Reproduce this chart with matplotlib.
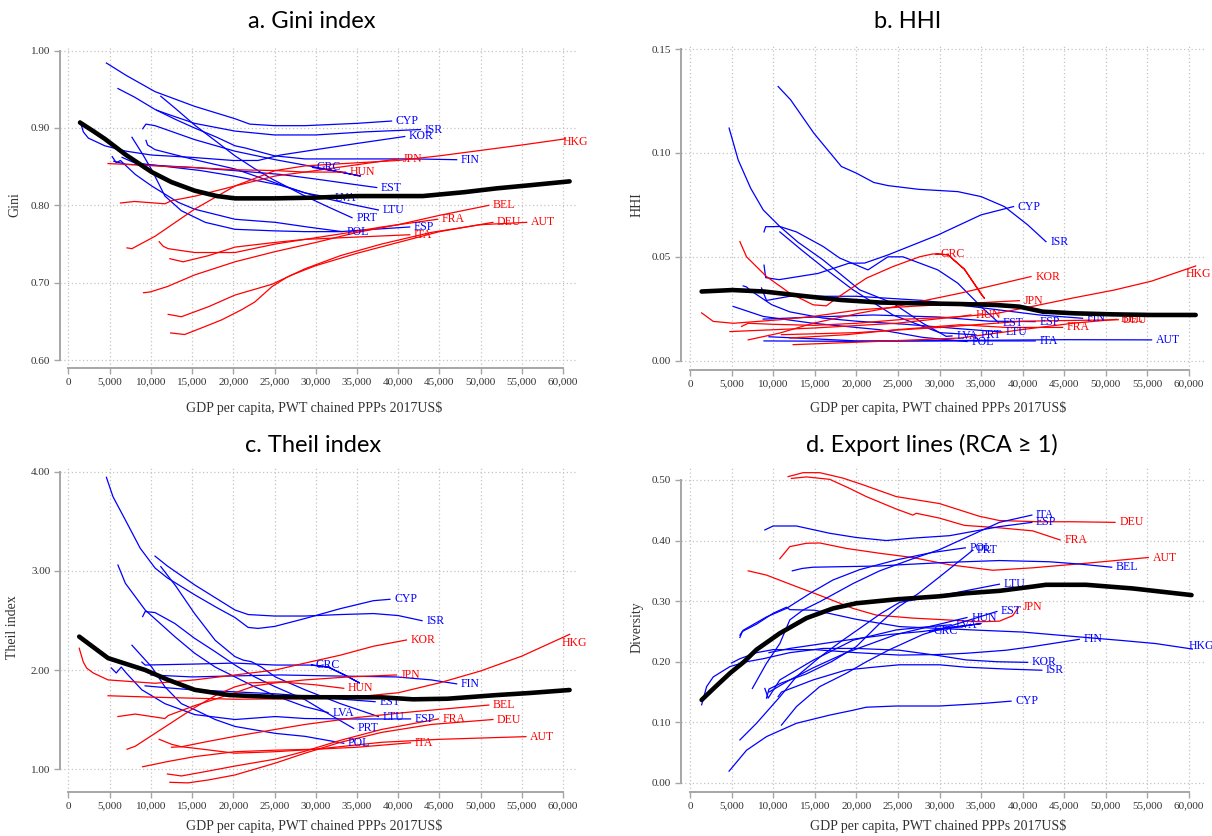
import matplotlib
matplotlib.use("Agg")
import matplotlib.pyplot as plt
from matplotlib.ticker import FuncFormatter

# x values: GDP per capita in thousands of 2017 US$

# ---------- a. Gini index ----------
gini = {
    "CYP": [(4.6, .984), (7, .968), (10.5, .947), (15.3, .928), (20.2, .912), (22, .905), (25, .903), (28.7, .903), (35, .906), (39.2, .909)],
    "ISR": [(10.7, .923), (12, .918), (15.3, .906), (20.2, .896), (25, .891), (30, .891), (36, .895), (42.7, .898)],
    "KOR": [(1.4, .909), (1.8, .895), (2.4, .887), (4.4, .877), (7, .87), (10.1, .865), (15, .862), (20, .858), (23, .858), (25.7, .865), (30, .872), (35, .88), (40.8, .889)],
    "FIN": [(6, .951), (8, .94), (10.5, .924), (13, .911), (15.3, .90), (18, .888), (20.2, .877), (21.5, .874), (25, .864), (28.7, .86), (35, .86), (42, .86), (47.1, .859)],
    "GRC": [(9.0, .899), (9.4, .905), (10.5, .903), (15.3, .885), (20.2, .87), (25.1, .859), (29.7, .85), (33, .843), (35.4, .838), (33, .843), (29.6, .849)],
    "EST": [(5.5, .857), (7, .853), (10, .852), (15, .849), (20, .845), (25.7, .84), (30, .834), (34, .828), (37.4, .823)],
    "LVA": [(9.4, .884), (9.6, .878), (10.5, .872), (15.3, .859), (20.2, .847), (25.1, .829), (28.7, .816), (31.8, .81)],
    "LTU": [(6.5, .862), (8, .855), (12, .85), (16, .845), (20, .838), (25.7, .826), (30, .812), (34, .802), (37.6, .794)],
    "PRT": [(11.2, .941), (13, .925), (15.4, .903), (18, .882), (20.2, .864), (22.5, .848), (24.7, .834), (28.7, .812), (31.5, .798), (34.4, .784)],
    "POL": [(5.3, .863), (5.8, .855), (6.3, .858), (8.1, .84), (10.1, .825), (13.3, .804), (15.3, .795), (20.2, .782), (25.1, .778), (29, .772), (33.2, .766)],
    "ESP": [(7.7, .888), (9, .866), (10.1, .846), (11.7, .812), (13.7, .793), (16.6, .778), (20.2, .769), (25, .767), (28.7, .766), (33, .766), (37, .769), (41.4, .772)],
    "HKG": [(7.1, .745), (7.7, .744), (10.5, .76), (15.3, .795), (20.2, .825), (25.1, .845), (28.7, .851), (35, .855), (40, .858), (45, .864), (50, .871), (55, .878), (60.3, .886)],
    "JPN": [(6.3, .803), (8, .805), (11.7, .802), (12.5, .806), (15.4, .812), (20.2, .825), (25.1, .838), (28.7, .843), (32, .848), (36, .854), (40, .86)],
    "HUN": [(4.8, .854), (7, .853), (10.5, .851), (15, .849), (20.2, .846), (25, .845), (28.7, .843), (33.6, .843)],
    "BEL": [(9.1, .687), (9.9, .688), (12, .695), (15.3, .71), (20.2, .727), (25, .74), (30, .752), (35, .765), (40, .775), (45, .787), (51, .8)],
    "FRA": [(11, .753), (11.5, .747), (12.1, .744), (15.3, .739), (20.2, .739), (25.1, .75), (28.7, .756), (33, .763), (38, .772), (44.8, .782)],
    "ITA": [(12.3, .731), (13.9, .727), (17, .735), (20.2, .746), (25, .752), (28.7, .756), (35, .759), (41.4, .762)],
    "DEU": [(12.1, .659), (13.7, .656), (17, .669), (20.2, .684), (24.7, .698), (27.1, .71), (30, .722), (35, .738), (40, .752), (45, .766), (51.5, .778)],
    "AUT": [(12.4, .635), (14.1, .633), (16.5, .643), (18.6, .652), (21, .665), (22.6, .675), (24.7, .695), (26.5, .707), (28.7, .718), (33, .735), (38, .75), (44, .765), (50, .775), (55.6, .778)],
}
gini_red = ["HKG", "JPN", "HUN", "BEL", "FRA", "ITA", "DEU", "AUT"]
gini_avg = [(1.4, .907), (3, .896), (4.4, .886), (7, .865), (10.1, .843), (12.5, .83), (15.3, .819), (18, .812), (20.2, .809),
            (25, .809), (30, .81), (35, .812), (40, .812), (43, .812), (48, .817), (52, .822), (56, .826), (60.8, .831)]

# ---------- b. HHI ----------
hhi = {
    "ISR": [(10.6, .132), (12.1, .1256), (14.9, .1095), (18.2, .0935), (20, .0903), (22.1, .0858), (23.8, .0843), (27.5, .0825), (32.2, .0814), (35, .079), (37.8, .0742), (40.6, .0654), (42.8, .0573)],
    "CYP": [(8.9, .046), (9.1, .040), (10.7, .039), (15.4, .042), (19.1, .0469), (21, .047), (23.8, .0509), (29.8, .0605), (35, .0702), (38.9, .0742)],
    "LVA": [(4.7, .112), (5.8, .0966), (7.3, .083), (8.8, .0726), (10.8, .0646), (13, .057), (16, .0485), (20.4, .0341), (24.4, .0277), (28, .018), (30.8, .0117), (31.5, .0119)],
    "EST": [(8.9, .062), (9.1, .0645), (10.8, .0646), (12.8, .062), (16, .055), (18, .0494), (21.4, .0437), (23.8, .05), (25.6, .05), (29.8, .0437), (32.2, .0373), (35, .026), (37.1, .0183)],
    "PRT": [(10.8, .062), (13.5, .053), (16, .045), (19.6, .0341), (24.4, .022), (30, .0135), (34.4, .0124)],
    "LTU": [(6.4, .036), (6.8, .0355), (7.2, .034), (9.8, .027), (12, .0235), (16, .0205), (20, .019), (26, .0175), (32, .0155), (37.5, .0138)],
    "POL": [(5.2, .0261), (8.8, .0213), (14.8, .018), (22.8, .0149), (28, .0112), (33.3, .0092)],
    "FIN": [(8.6, .035), (9.2, .029), (12, .031), (20, .031), (28, .029), (36, .025), (42, .022), (47.2, .0204)],
    "ESP": [(8.8, .020), (15, .021), (22, .022), (30, .021), (36, .019), (41.5, .0188)],
    "ITA": [(9.5, .0115), (15, .0105), (20, .0095), (30, .0095), (41.5, .0095)],
    "AUT": [(8.9, .0095), (20, .0093), (35, .0098), (45, .0101), (55.5, .01)],
    "GRC": [(6, .0573), (6.8, .05), (9.2, .0405), (12, .0325), (14.8, .0269), (16.4, .0264), (17.6, .03), (21.2, .0397), (24.4, .0453), (27.6, .05), (29.2, .0514), (31, .051), (33, .044), (35, .032), (35.4, .030), (33, .044), (31, .051), (29.6, .0514)],
    "JPN": [(1.4, .023), (2.8, .0189), (5.2, .018), (10.8, .0197), (14.8, .0213), (20.4, .0245), (26.8, .0262), (33, .0275), (39.6, .0289)],
    "HKG": [(6.2, .0165), (7, .018), (10, .0175), (15, .017), (20, .018), (26, .02), (32, .021), (36.8, .0227), (41, .026), (46.2, .0303), (51, .034), (55.5, .0383), (60.8, .0456)],
    "HUN": [(4.8, .014), (14.8, .0157), (24.8, .018), (32.5, .0213), (33.8, .022)],
    "KOR": [(7, .010), (10.8, .0133), (14.8, .018), (20.4, .0229), (24.8, .0261), (32.5, .0325), (41, .0405)],
    "FRA": [(12, .0109), (18.8, .0125), (24.8, .0149), (32.5, .0173), (38, .016), (44.8, .016)],
    "BEL": [(12.4, .0077), (22.8, .0093), (32.5, .0109), (40, .015), (46, .018), (51.3, .0199)],
    "DEU": [(11, .0125), (20, .0135), (30, .016), (40, .019), (51.5, .0197)],
}
hhi_red = ["GRC", "JPN", "HKG", "HUN", "KOR", "FRA", "BEL", "DEU"]
hhi_avg = [(1.4, .0333), (5.1, .034), (8.9, .0333), (13.5, .0312), (18.2, .0292), (22.8, .028), (27.5, .0276), (32.2, .0273),
           (36.8, .0268), (39.6, .026), (42.4, .0236), (46.2, .0228), (50.8, .0223), (55.5, .022), (60.8, .022)]

# ---------- c. Theil index ----------
theil = {
    "CYP": [(4.6, 3.946), (5.4, 3.75), (6.9, 3.515), (8.7, 3.23), (10.5, 3.03), (12, 2.93), (15.3, 2.76), (18, 2.63), (20.2, 2.53), (21.8, 2.43), (23, 2.42), (25, 2.44), (28.7, 2.52), (33, 2.62), (37, 2.70), (39, 2.714)],
    "ISR": [(10.5, 3.15), (12, 3.05), (15.3, 2.86), (18, 2.72), (20.2, 2.606), (21.8, 2.56), (25, 2.545), (28.7, 2.545), (33, 2.56), (37, 2.57), (40, 2.55), (42.9, 2.498)],
    "LTU": [(11.2, 3.044), (13, 2.85), (15.3, 2.57), (17.8, 2.30), (20.2, 2.135), (21.2, 2.10), (22.2, 2.084), (23.4, 2.03), (25.1, 1.93), (28.7, 1.80), (33, 1.66), (37.6, 1.53)],
    "LVA": [(6.0, 3.06), (6.9, 2.876), (9.3, 2.606), (12.9, 2.337), (15.3, 2.17), (17.8, 2.03), (20.2, 1.93), (22.6, 1.83), (25.1, 1.74), (28.7, 1.63), (31.5, 1.57)],
    "PRT": [(9.0, 2.54), (9.3, 2.59), (10.5, 2.58), (12.9, 2.47), (15.3, 2.32), (17.8, 2.185), (20.2, 2.05), (22.6, 1.93), (25.1, 1.83), (28.7, 1.70), (31.5, 1.56), (34.6, 1.41)],
    "POL": [(7.7, 2.25), (10.1, 2.03), (11.7, 1.83), (13.7, 1.66), (15.3, 1.60), (17.8, 1.50), (20.2, 1.43), (25.1, 1.36), (28.7, 1.33), (33.4, 1.26)],
    "ESP": [(5.2, 2.02), (5.8, 1.97), (6.4, 2.03), (7, 1.97), (8.9, 1.80), (11.7, 1.66), (15.3, 1.55), (20.2, 1.50), (25.1, 1.53), (28.7, 1.51), (35, 1.505), (41.5, 1.506)],
    "GRC": [(8.9, 2.08), (9.3, 2.05), (15.3, 2.06), (20.2, 2.07), (25.1, 2.05), (29.5, 2.05), (31.5, 2.03), (33.5, 1.95), (35.3, 1.87), (33.5, 1.95), (31.5, 2.03), (29.5, 2.05)],
    "EST": [(9.3, 1.84), (12, 1.82), (15, 1.80), (20, 1.78), (25, 1.76), (30, 1.73), (34, 1.70), (37.2, 1.68)],
    "FIN": [(10, 1.95), (15, 1.93), (20, 1.94), (25.7, 1.95), (32, 1.94), (39.8, 1.93), (44, 1.90), (47.1, 1.86)],
    "KOR": [(1.3, 2.22), (1.8, 2.08), (2.2, 2.02), (3, 1.97), (4.8, 1.90), (10.5, 1.866), (15.3, 1.90), (20.2, 1.95), (25.1, 2.0), (28.7, 2.07), (33, 2.15), (37, 2.24), (41, 2.303)],
    "HKG": [(4.8, 1.74), (10.5, 1.725), (20.2, 1.705), (28.7, 1.71), (35, 1.73), (40, 1.77), (45, 1.87), (50, 1.99), (55, 2.14), (60.8, 2.36)],
    "JPN": [(6.0, 1.53), (8.1, 1.555), (11.7, 1.51), (12.1, 1.54), (15.3, 1.64), (20.2, 1.77), (22.6, 1.84), (25.1, 1.87), (28.7, 1.90), (34, 1.93), (39.8, 1.95)],
    "HUN": [(7.1, 1.20), (8.1, 1.23), (10.5, 1.36), (15.3, 1.62), (18, 1.75), (20.2, 1.83), (22, 1.87), (25.7, 1.88), (30, 1.85), (33.4, 1.815)],
    "AUT": [(11, 1.30), (12.5, 1.25), (13.7, 1.225), (15.3, 1.21), (20.2, 1.16), (25.1, 1.175), (30, 1.2), (38, 1.27), (45, 1.30), (55.5, 1.327)],
    "BEL": [(12.5, 1.22), (13.7, 1.225), (17, 1.28), (20.2, 1.33), (25.1, 1.40), (28.7, 1.45), (35, 1.52), (42, 1.58), (51, 1.646)],
    "ITA": [(9.0, 1.023), (12, 1.075), (15.3, 1.125), (20.2, 1.175), (25, 1.19), (30, 1.2), (35, 1.22), (41.5, 1.265)],
    "FRA": [(12.0, 0.95), (13.7, 0.93), (17, 0.98), (20.2, 1.03), (25.1, 1.10), (28.7, 1.18), (33, 1.29), (38, 1.40), (44.9, 1.506)],
    "DEU": [(12.3, 0.866), (14.5, 0.86), (17, 0.89), (20.2, 0.94), (25.1, 1.06), (28.7, 1.16), (33, 1.27), (38, 1.37), (44, 1.45), (51.5, 1.50)],
}
theil_red = ["KOR", "HKG", "JPN", "HUN", "AUT", "BEL", "ITA", "FRA", "DEU"]
theil_avg = [(1.3, 2.337), (4.8, 2.12), (9.3, 2.0), (12.1, 1.9), (15.3, 1.8), (19.5, 1.747), (25, 1.728), (30, 1.725),
             (38, 1.724), (41.8, 1.704), (46, 1.71), (52, 1.747), (56, 1.768), (60.8, 1.798)]

# ---------- d. Export lines (RCA >= 1) ----------
lines_rca = {
    "DEU": [(11.8, .5055), (12.5, .508), (13.6, .512), (15.6, .512), (18.4, .503), (20.8, .492), (24.8, .4725), (30, .461), (34.8, .44), (37.2, .433), (42, .431), (46, .431), (51.1, .43)],
    "FRA": [(12.2, .5025), (14, .505), (16.8, .501), (19.2, .486), (21.2, .4725), (24.8, .452), (26.8, .442), (27.2, .445), (30, .437), (33, .425), (37.2, .421), (41.2, .416), (44.5, .401)],
    "AUT": [(10.8, .37), (12, .39), (14, .3955), (15.6, .396), (18.8, .387), (22.8, .379), (26.8, .372), (31.2, .36), (36.4, .351), (41.2, .355), (48, .363), (55.1, .372)],
    "JPN": [(7, .35), (9.2, .343), (12.8, .324), (16, .3075), (19.6, .288), (22.4, .277), (26.8, .272), (31, .269), (34.8, .266), (37.2, .267), (38.8, .276), (39.5, .29)],
    "ESP": [(9, .4175), (10, .424), (12.8, .424), (16.8, .412), (20, .405), (23.6, .4), (26.8, .404), (31.2, .408), (34, .415), (37.2, .423), (41.1, .43)],
    "BEL": [(12.3, .35), (13.5, .354), (14.8, .356), (22.8, .358), (25.2, .36), (31, .364), (37.2, .367), (43.2, .365), (47, .361), (50.7, .356)],
    "POL": [(6, .244), (6.4, .252), (9.2, .274), (11.6, .288), (14.8, .316), (17.2, .335), (20.4, .352), (24.8, .368), (29, .38), (33.1, .388)],
    "ITA": [(7.5, .156), (9.2, .1975), (10.8, .23), (12, .269), (13.6, .2855), (15.6, .299), (19.6, .329), (22.8, .35), (26.8, .37), (30, .385), (34, .41), (37.2, .43), (41.1, .442)],
    "PRT": [(9.2, .14), (9.5, .155), (11, .165), (14, .18), (17, .2), (20, .225), (22.8, .263), (25, .29), (27.5, .313), (30, .34), (34, .384)],
    "LTU": [(6, .071), (8, .0985), (10.8, .142), (12.8, .1755), (15.6, .2075), (18, .232), (20.4, .255), (23, .28), (25.2, .298), (31.2, .312), (37.2, .328)],
    "EST": [(11, .0955), (12.8, .126), (15.6, .159), (18.8, .181), (21.2, .2), (24, .22), (28, .245), (32, .262), (36.9, .283)],
    "HUN": [(9.5, .15), (12, .17), (14.8, .19), (18.8, .215), (24.8, .245), (30, .262), (33.3, .273)],
    "LVA": [(9, .156), (9.4, .14), (10.8, .17), (14.8, .2025), (19.6, .2355), (24.8, .2525), (28, .257), (31.4, .261)],
    "GRC": [(9.5, .215), (12, .222), (16, .23), (20, .238), (24, .245), (28, .25), (32, .258), (35, .263), (32, .257), (28.8, .25)],
    "HKG": [(6, .24), (6.3, .25), (8, .262), (10, .28), (11.6, .29), (12, .286), (15, .285), (20, .27), (25.2, .258), (30, .255), (34.8, .252), (40, .249), (46.8, .241), (52, .235), (56, .23), (60.4, .221)],
    "FIN": [(5, .198), (6, .205), (8, .215), (10, .22), (15, .22), (20, .215), (25.2, .211), (30, .212), (33.2, .214), (38, .219), (41.2, .225), (46.8, .237)],
    "KOR": [(1.4, .129), (2, .159), (2.8, .175), (4.8, .192), (6.8, .2), (8.8, .205), (12, .215), (16, .222), (20, .222), (25.2, .219), (30, .21), (33.2, .203), (37, .2), (40.6, .199)],
    "ISR": [(10.6, .1425), (11, .15), (14.8, .17), (18.8, .1865), (22.8, .192), (25.2, .195), (30, .195), (33.2, .191), (38, .188), (42.3, .186)],
    "CYP": [(4.7, .0195), (6.8, .054), (9.2, .0765), (12.8, .0985), (16.8, .112), (19.6, .12), (21.2, .125), (24.8, .127), (30, .127), (35, .131), (38.6, .135)],
}
rca_red = ["DEU", "FRA", "AUT", "JPN"]
rca_avg = [(1.4, .137), (3, .158), (4.8, .181), (6.5, .2), (8, .22), (10.8, .247), (14, .272), (17.2, .288), (20, .2965),
           (24.8, .303), (30, .308), (33.2, .313), (37.2, .317), (41.2, .324), (42.8, .327), (47.6, .327), (53.2, .321), (60.3, .31)]

BLUE = "#0000ff"
RED = "#ff0000"
GRID = "#c4c4c4"
AXIS = "#a6a6a6"
TXT = "#333333"

plt.rcParams["font.family"] = ["Liberation Serif", "DejaVu Serif"]

W, H = 1212, 836
fig = plt.figure(figsize=(W / 100, H / 100), dpi=100)


def px_rect(left, top, right, bottom):
    return [left / W, 1 - bottom / H, (right - left) / W, (bottom - top) / H]


def panel(rect, lines, red, avg, xlim, ylim, yticks, yfmt, hkg_off):
    ax = fig.add_axes(rect)
    for name, pts in lines.items():
        xs = [p[0] * 1000 for p in pts]
        ys = [p[1] for p in pts]
        c = RED if name in red else BLUE
        ax.plot(xs, ys, color=c, lw=0.9, zorder=3)
        off = hkg_off if name == "HKG" else (3, 0)
        ax.annotate(name, (xs[-1], ys[-1]), xytext=off, textcoords="offset points",
                    ha="left", va="center", fontsize=8.5, color=c, zorder=4)
    ax.plot([p[0] * 1000 for p in avg], [p[1] for p in avg], color="black", lw=3.3,
            solid_capstyle="round", zorder=6)
    ax.set_xlim(*xlim)
    ax.set_ylim(*ylim)
    xt = list(range(0, 60001, 5000))
    ax.set_xticks(xt)
    ax.set_yticks(yticks)
    ax.xaxis.set_major_formatter(FuncFormatter(lambda v, p: f"{int(v):,}"))
    ax.yaxis.set_major_formatter(FuncFormatter(lambda v, p: yfmt.format(v)))
    ax.grid(True, color=GRID, linestyle=(0, (1, 2)), linewidth=0.9, zorder=0)
    for s in ["top", "right"]:
        ax.spines[s].set_visible(False)
    for s in ["left", "bottom"]:
        ax.spines[s].set_color(AXIS)
        ax.spines[s].set_linewidth(1.4)
    ax.spines["bottom"].set_bounds(0, 60000)
    ax.spines["left"].set_bounds(yticks[0], yticks[-1])
    ax.tick_params(direction="out", length=4, width=1, color=AXIS, labelsize=8,
                   labelcolor=TXT, pad=3)
    return ax


# panel rectangles in pixels: left, top, right, bottom
panel(px_rect(60, 46, 577, 368), gini, gini_red, gini_avg, (-1030, 61700), (0.5897, 1.006),
      [0.6, 0.7, 0.8, 0.9, 1.0], "{:.2f}", (-2, -2))
panel(px_rect(681, 45, 1204, 370), hhi, hhi_red, hhi_avg, (-1080, 61800), (-0.0045, 0.152),
      [0.0, 0.05, 0.10, 0.15], "{:.2f}", (-7, -6))
panel(px_rect(60, 467, 577, 792), theil, theil_red, theil_avg, (-1030, 61700), (0.768, 4.05),
      [1.0, 2.0, 3.0, 4.0], "{:.2f}", (-6, -6))
panel(px_rect(681, 466, 1204, 792), lines_rca, rca_red, rca_avg, (-1080, 61800), (-0.0149, 0.523),
      [0.0, 0.1, 0.2, 0.3, 0.4, 0.5], "{:.2f}", (-3, 2))

tfont = dict(family=["Lato", "DejaVu Sans"], fontsize=17, ha="center", va="center", color="black")
fig.text(312 / W, 1 - 22 / H, "a. Gini index", **tfont)
fig.text(908 / W, 1 - 22 / H, "b. HHI", **tfont)
fig.text(313 / W, 1 - 445 / H, "c. Theil index", **tfont)
fig.text(932 / W, 1 - 445 / H, "d. Export lines (RCA \u2265 1)", **tfont)

xl = "GDP per capita, PWT chained PPPs 2017US$"
fig.text(314 / W, 1 - 408 / H, xl, fontsize=10, ha="center", va="center", color=TXT)
fig.text(938 / W, 1 - 408 / H, xl, fontsize=10, ha="center", va="center", color=TXT)
fig.text(314 / W, 1 - 826 / H, xl, fontsize=10, ha="center", va="center", color=TXT)
fig.text(938 / W, 1 - 826 / H, xl, fontsize=10, ha="center", va="center", color=TXT)

fig.text(15 / W, 1 - 205 / H, "Gini", rotation=90, fontsize=10, ha="center", va="center", color=TXT)
fig.text(637 / W, 1 - 205 / H, "HHI", rotation=90, fontsize=10, ha="center", va="center", color=TXT)
fig.text(13 / W, 1 - 627 / H, "Theil index", rotation=90, fontsize=10, ha="center", va="center", color=TXT)
fig.text(637 / W, 1 - 627 / H, "Diversity", rotation=90, fontsize=10, ha="center", va="center", color=TXT)

fig.savefig("out.png", dpi=100)
